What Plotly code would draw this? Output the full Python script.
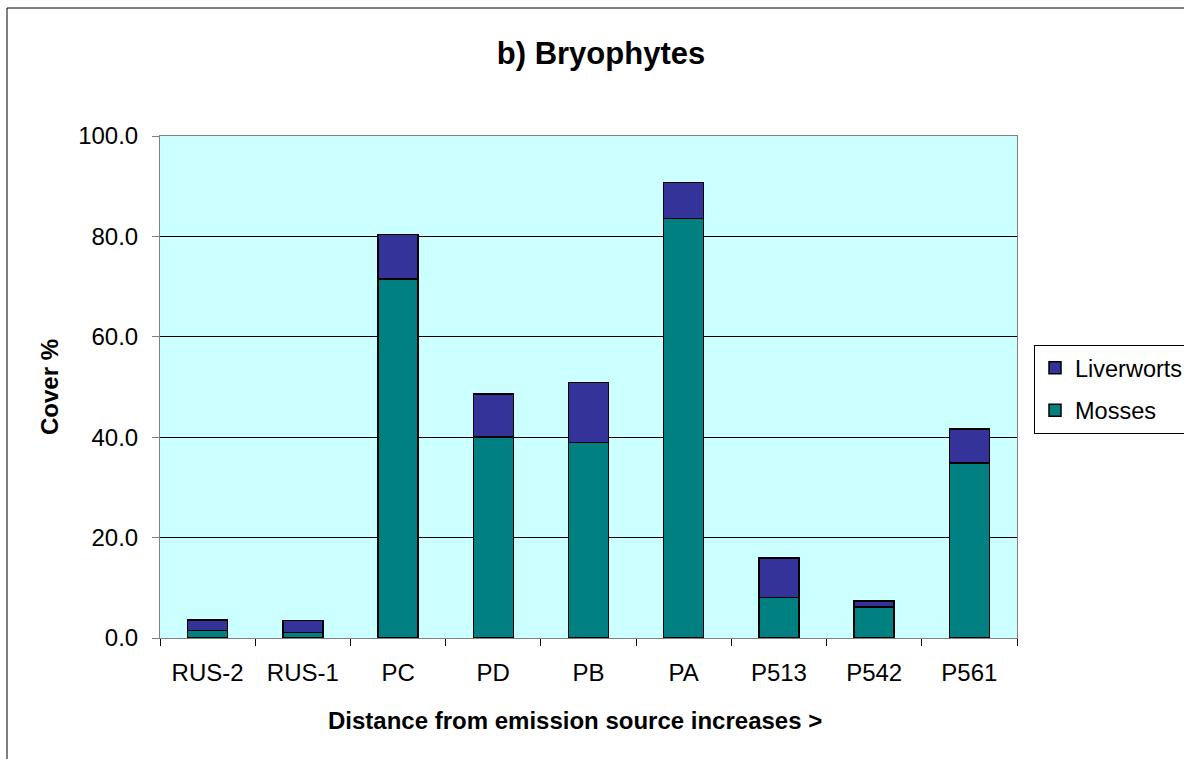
import plotly.graph_objects as go

categories = ["RUS-2", "RUS-1", "PC", "PD", "PB", "PA", "P513", "P542", "P561"]
mosses = [1.5, 1.1, 71.5, 40.0, 38.9, 83.6, 8.1, 6.2, 34.9]
liverworts = [2.1, 2.4, 8.9, 8.6, 12.0, 7.1, 7.8, 1.2, 6.7]
y_ticks = [0, 20, 40, 60, 80, 100]

W, H = 1184, 759
L, R, T, B = 160, 1017, 136, 638
pw, ph = R - L, B - T

FONT = "Arial, 'Liberation Sans', sans-serif"

fig = go.Figure()
fig.add_trace(go.Bar(
    x=categories, y=mosses, name="Mosses", legendgroup="m", legendrank=2,
    marker=dict(color="#008080", line=dict(color="black", width=1.5)),
))
fig.add_trace(go.Bar(
    x=categories, y=liverworts, name="Liverworts", legendgroup="l", legendrank=1,
    marker=dict(color="#333399", line=dict(color="black", width=1.5)),
))

def px_x(x):
    return (x - L) / pw

def px_y(y):
    return (B - y) / ph

fig.add_shape(type="rect", xref="paper", yref="paper",
              x0=px_x(7), x1=px_x(1200), y0=px_y(780), y1=px_y(8),
              line=dict(color="black", width=1), fillcolor="rgba(0,0,0,0)", layer="below")

fig.add_annotation(text="<b>Distance from emission source increases ></b>",
                   xref="paper", yref="paper", x=px_x(575), y=px_y(720),
                   xanchor="center", yanchor="middle", showarrow=False,
                   font=dict(size=24, family=FONT, color="black"))

fig.update_layout(
    width=W, height=H,
    barmode="stack", bargap=0.58,
    paper_bgcolor="white", plot_bgcolor="#CCFFFF",
    margin=dict(l=L, r=W - R, t=T, b=H - B, autoexpand=False),
    font=dict(family=FONT, size=24, color="black"),
    title=dict(text="<b>b) Bryophytes</b>", font=dict(size=31, family=FONT),
               x=601 / W, xref="container", xanchor="center",
               y=1 - 53 / H, yref="container", yanchor="middle"),
    legend=dict(x=px_x(1034), y=px_y(345), xanchor="left", yanchor="top",
                bgcolor="white", bordercolor="black", borderwidth=1,
                traceorder="grouped", tracegroupgap=9,
                font=dict(size=23.5, family=FONT)),
    showlegend=True,
)
fig.update_xaxes(
    type="category", showline=True, linecolor="#808080", linewidth=1, mirror=True,
    ticks="outside", tickson="boundaries", ticklen=7, tickcolor="black",
    showgrid=False, ticklabelstandoff=13,
)
fig.update_yaxes(
    range=[0, 100], tickvals=y_ticks, tickformat=".1f",
    showline=True, linecolor="#808080", linewidth=1, mirror=True,
    ticks="outside", ticklen=7, tickcolor="#808080",
    showgrid=True, gridcolor="black", gridwidth=1, zeroline=False,
    ticklabelstandoff=9,
    title=dict(text="<b>Cover %</b>", font=dict(size=24), standoff=12),
)

fig.write_html("out.html", config={"displayModeBar": False},
               post_script="document.body.style.margin='0';document.body.style.overflow='hidden';")
